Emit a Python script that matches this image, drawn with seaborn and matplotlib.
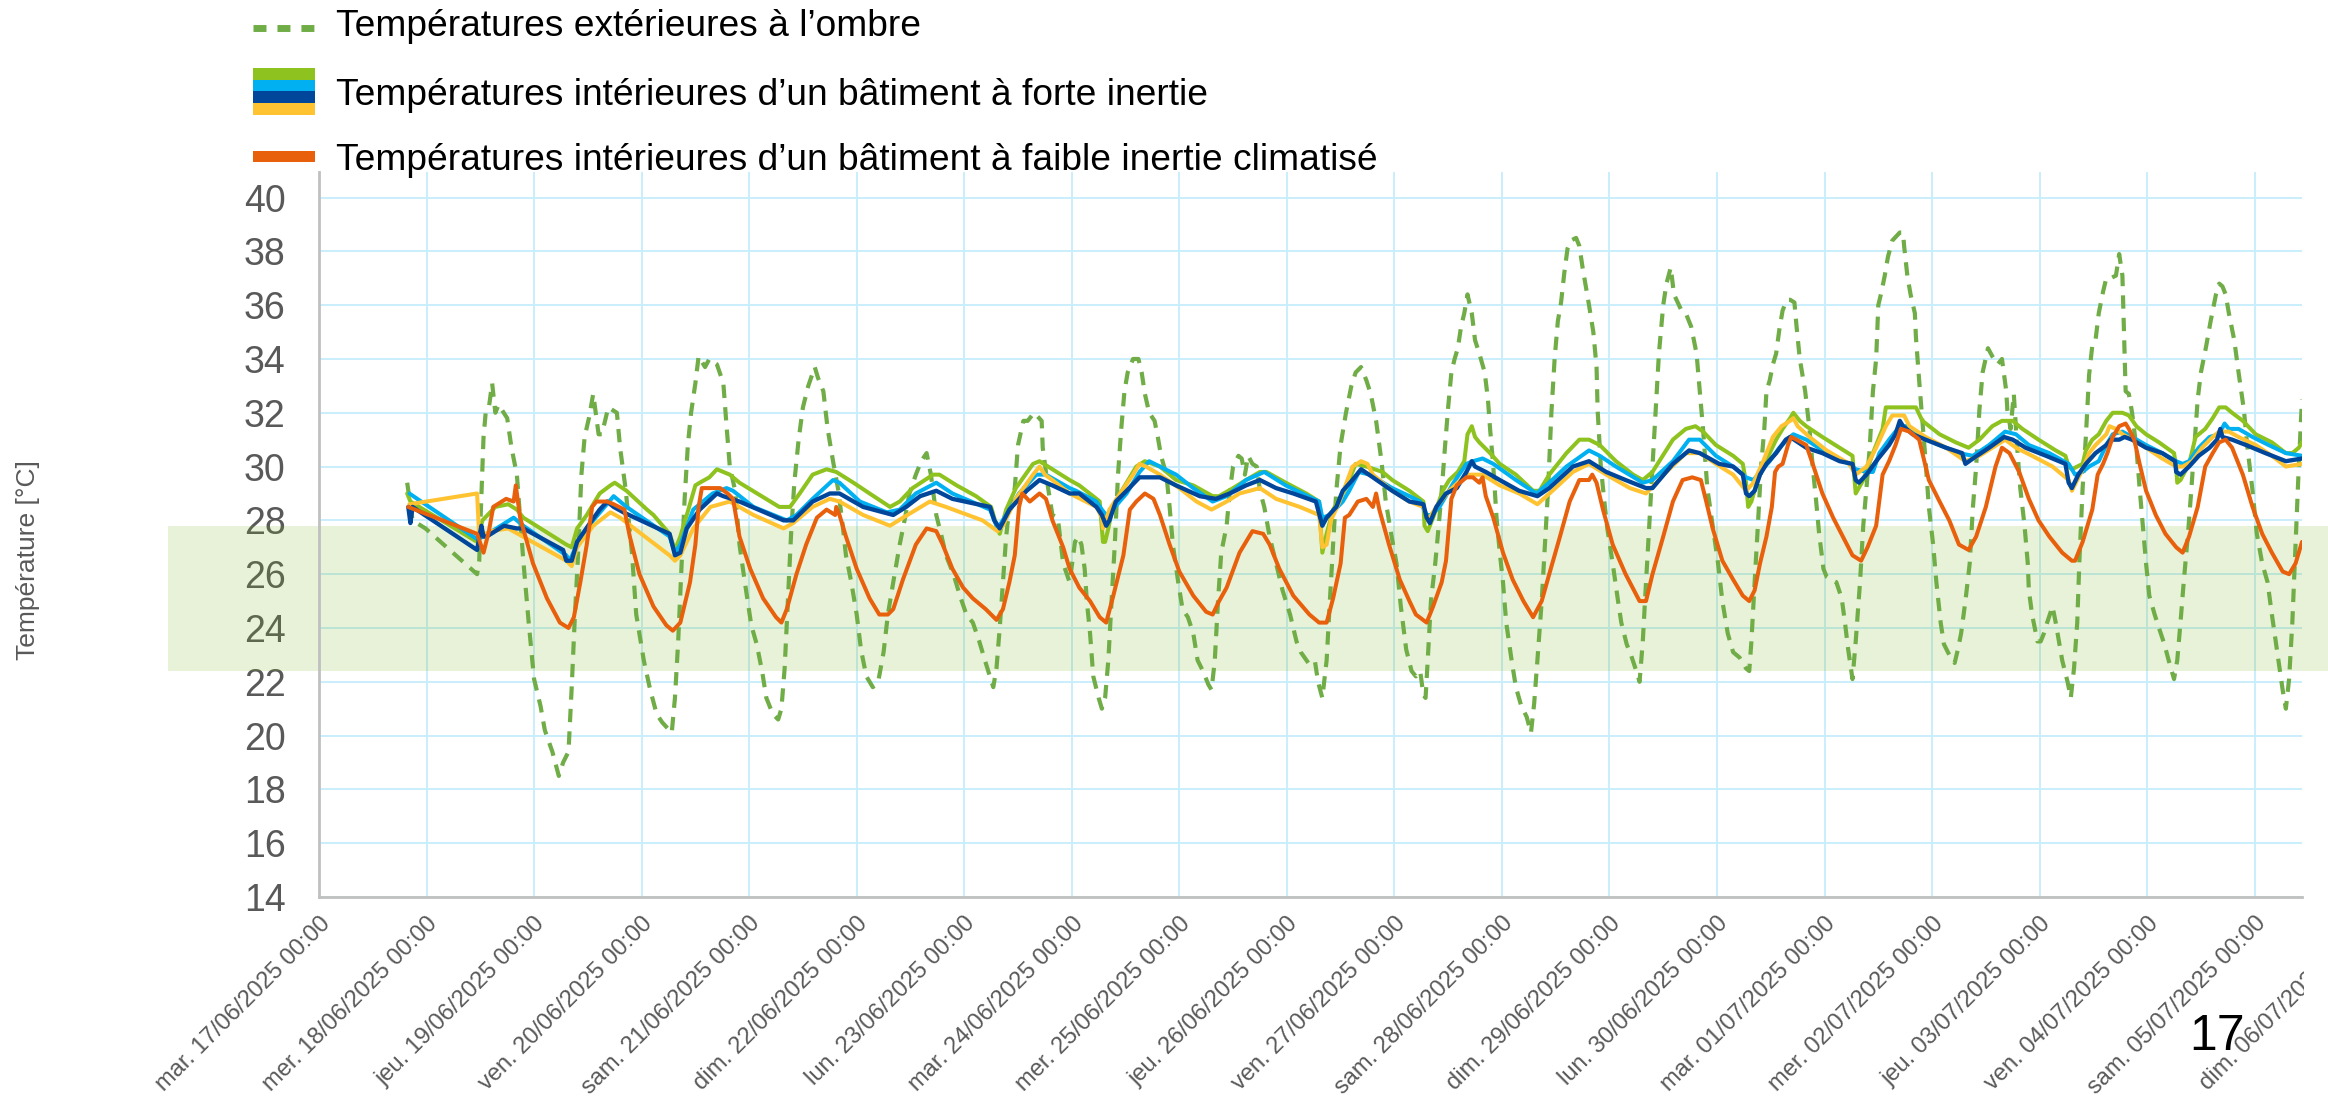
import pandas as pd
import seaborn as sns
import matplotlib.pyplot as plt
import matplotlib.transforms as mtransforms
from matplotlib.patches import Rectangle
from matplotlib.lines import Line2D

# time in days since mar. 17/06/2025 00:00, temperatures in °C

# Températures extérieures à l'ombre
t_ext = [0.82, 0.87, 0.99, 1.47, 1.49, 1.50, 1.52, 1.53, 1.55, 1.58, 1.61, 1.64, 1.67, 1.75, 1.79, 1.84,
         1.90, 1.95, 2.00, 2.06, 2.10, 2.17, 2.23, 2.27, 2.32, 2.35, 2.38, 2.41, 2.44, 2.47, 2.51, 2.55,
         2.60, 2.63, 2.69, 2.77, 2.80, 2.85, 2.91, 2.95, 3.02, 3.08, 3.14, 3.19, 3.28, 3.31, 3.34, 3.37,
         3.40, 3.43, 3.46, 3.50, 3.53, 3.59, 3.63, 3.70, 3.76, 3.79, 3.82, 3.87, 3.91, 3.96, 4.02, 4.07,
         4.12, 4.16, 4.22, 4.27, 4.30, 4.33, 4.36, 4.39, 4.42, 4.46, 4.50, 4.55, 4.61, 4.64, 4.69, 4.73,
         4.78, 4.83, 4.87, 4.90, 4.95, 5.00, 5.04, 5.09, 5.15, 5.20, 5.25, 5.29, 5.34, 5.40, 5.45, 5.49,
         5.55, 5.60, 5.65, 5.69, 5.74, 5.79, 5.83, 5.90, 5.96, 6.02, 6.08, 6.14, 6.20, 6.27, 6.30, 6.33,
         6.36, 6.39, 6.42, 6.47, 6.50, 6.55, 6.59, 6.65, 6.72, 6.73, 6.78, 6.82, 6.87, 6.92, 6.98, 7.03,
         7.06, 7.09, 7.12, 7.14, 7.17, 7.20, 7.25, 7.28, 7.31, 7.34, 7.37, 7.40, 7.43, 7.46, 7.49, 7.52,
         7.57, 7.62, 7.65, 7.68, 7.72, 7.77, 7.80, 7.83, 7.88, 7.91, 7.94, 7.99, 8.03, 8.08, 8.13, 8.17,
         8.22, 8.27, 8.30, 8.33, 8.36, 8.39, 8.44, 8.47, 8.50, 8.55, 8.58, 8.61, 8.64, 8.68, 8.72, 8.75,
         8.79, 8.84, 8.90, 8.96, 9.03, 9.09, 9.13, 9.20, 9.26, 9.29, 9.33, 9.37, 9.40, 9.43, 9.46, 9.50,
         9.55, 9.60, 9.64, 9.69, 9.74, 9.78, 9.83, 9.88, 9.92, 9.97, 10.02, 10.06, 10.11, 10.16, 10.20, 10.24,
         10.27, 10.29, 10.31, 10.34, 10.38, 10.41, 10.44, 10.47, 10.50, 10.53, 10.56, 10.59, 10.62, 10.65, 10.68, 10.72,
         10.75, 10.79, 10.84, 10.87, 10.89, 10.92, 10.95, 10.98, 11.01, 11.04, 11.09, 11.13, 11.18, 11.23, 11.27, 11.30,
         11.33, 11.37, 11.40, 11.43, 11.46, 11.49, 11.52, 11.55, 11.58, 11.61, 11.64, 11.69, 11.72, 11.75, 11.78, 11.81,
         11.85, 11.88, 11.89, 11.92, 11.95, 11.98, 12.03, 12.08, 12.11, 12.16, 12.20, 12.25, 12.28, 12.31, 12.34, 12.37,
         12.40, 12.43, 12.46, 12.50, 12.53, 12.57, 12.60, 12.67, 12.71, 12.76, 12.81, 12.84, 12.87, 12.91, 12.96, 13.01,
         13.05, 13.10, 13.15, 13.21, 13.27, 13.30, 13.32, 13.35, 13.38, 13.41, 13.44, 13.46, 13.49, 13.52, 13.55, 13.58,
         13.61, 13.65, 13.68, 13.72, 13.74, 13.77, 13.82, 13.86, 13.89, 13.92, 13.95, 13.99, 14.02, 14.06, 14.11, 14.16,
         14.19, 14.22, 14.26, 14.29, 14.33, 14.36, 14.39, 14.42, 14.45, 14.48, 14.50, 14.53, 14.56, 14.59, 14.63, 14.70,
         14.73, 14.74, 14.77, 14.80, 14.84, 14.85, 14.88, 14.91, 14.94, 14.97, 15.01, 15.04, 15.08, 15.11, 15.16, 15.21,
         15.24, 15.27, 15.31, 15.35, 15.38, 15.41, 15.44, 15.47, 15.52, 15.56, 15.61, 15.65, 15.69, 15.70, 15.73, 15.76,
         15.79, 15.82, 15.86, 15.89, 15.90, 15.93, 15.98, 16.01, 16.04, 16.07, 16.12, 16.15, 16.18, 16.21, 16.26, 16.29,
         16.32, 16.35, 16.37, 16.40, 16.43, 16.46, 16.49, 16.52, 16.55, 16.59, 16.62, 16.66, 16.71, 16.74, 16.77, 16.78,
         16.79, 16.80, 16.83, 16.86, 16.90, 16.93, 16.96, 16.99, 17.02, 17.07, 17.11, 17.16, 17.20, 17.25, 17.28, 17.31,
         17.34, 17.38, 17.41, 17.44, 17.47, 17.50, 17.55, 17.59, 17.64, 17.67, 17.70, 17.73, 17.76, 17.81, 17.85, 17.90,
         17.93, 17.98, 18.02, 18.07, 18.12, 18.16, 18.21, 18.26, 18.29, 18.32, 18.35, 18.38, 18.41, 18.44]
v_ext = [29.4, 28.0, 27.7, 26.0, 26.5, 27.8, 30.0, 31.1, 32.0, 32.2, 33.1, 32.0, 32.3, 31.8, 30.7, 29.7,
         26.5, 24.2, 22.1, 21.1, 20.2, 19.4, 18.5, 19.0, 19.4, 21.8, 24.5, 26.8, 29.7, 31.1, 31.8, 32.7,
         31.2, 31.2, 32.2, 32.0, 30.7, 29.2, 26.8, 24.5, 22.8, 21.7, 20.8, 20.5, 20.1, 21.4, 23.5, 26.2,
         28.8, 30.8, 32.0, 33.1, 34.1, 33.7, 34.0, 33.8, 33.1, 31.5, 30.0, 29.1, 27.1, 25.7, 24.1, 23.4,
         22.4, 21.4, 20.8, 20.6, 21.0, 22.5, 25.0, 27.5, 29.4, 31.0, 32.2, 33.0, 33.7, 33.3, 32.8, 31.4,
         30.2, 29.1, 27.8, 26.7, 25.7, 24.5, 23.2, 22.2, 21.8, 22.0, 23.1, 24.5, 25.7, 27.1, 28.1, 29.0,
         29.7, 30.2, 30.5, 29.7, 28.2, 27.4, 26.7, 26.0, 25.2, 24.5, 24.2, 23.5, 22.7, 21.8, 22.5, 24.0,
         25.7, 27.4, 28.5, 29.2, 30.8, 31.7, 31.7, 32.0, 31.7, 30.7, 29.2, 28.2, 28.1, 26.4, 25.7, 27.2,
         27.4, 27.1, 26.2, 25.0, 23.8, 22.2, 21.4, 21.0, 21.4, 22.8, 25.0, 27.1, 29.7, 31.4, 32.8, 33.5,
         34.0, 34.0, 33.5, 32.7, 32.0, 31.7, 31.1, 30.4, 29.7, 28.5, 27.1, 25.7, 24.7, 24.4, 23.8, 22.8,
         22.4, 21.9, 21.7, 22.8, 25.0, 26.8, 27.8, 29.1, 30.0, 30.4, 30.3, 29.7, 30.4, 30.1, 30.0, 29.1,
         28.5, 27.4, 26.4, 25.4, 24.5, 23.5, 23.1, 22.7, 22.8, 22.0, 21.4, 22.8, 25.0, 27.1, 29.1, 30.8,
         32.0, 33.0, 33.5, 33.7, 33.2, 32.7, 31.7, 30.2, 28.7, 27.5, 26.4, 24.8, 23.2, 22.4, 22.2, 22.4,
         21.5, 21.4, 22.8, 25.0, 26.4, 27.7, 29.1, 30.7, 32.2, 33.5, 34.0, 34.4, 35.2, 35.7, 36.4, 35.7,
         34.7, 34.2, 33.5, 32.5, 31.4, 30.0, 28.1, 26.8, 25.7, 24.2, 22.8, 21.8, 21.1, 20.7, 20.1, 21.2,
         22.8, 25.0, 27.1, 29.2, 32.0, 34.0, 35.4, 36.1, 37.2, 38.1, 38.4, 38.5, 38.2, 37.4, 36.7, 36.0,
         35.0, 33.7, 32.1, 30.0, 28.8, 27.7, 26.4, 25.0, 24.2, 23.4, 23.0, 22.4, 22.0, 23.5, 25.7, 27.8,
         30.0, 32.1, 34.2, 36.0, 36.8, 37.4, 36.4, 35.8, 35.7, 35.2, 34.2, 32.8, 31.4, 29.2, 27.8, 26.4,
         25.0, 23.8, 23.1, 22.9, 22.5, 22.4, 23.5, 25.7, 27.8, 30.0, 31.4, 32.8, 33.2, 33.8, 34.2, 35.1,
         35.8, 36.2, 36.2, 36.1, 35.2, 34.0, 32.8, 31.4, 30.0, 28.8, 27.5, 26.2, 25.9, 25.8, 25.7, 25.1,
         24.2, 23.2, 22.1, 23.5, 25.7, 27.8, 29.2, 30.7, 32.8, 34.0, 36.0, 36.5, 37.1, 37.8, 38.4, 38.7,
         38.7, 38.2, 37.1, 36.4, 35.7, 34.8, 33.2, 31.7, 30.2, 28.5, 27.1, 25.7, 24.2, 23.4, 23.0, 22.7,
         23.2, 23.8, 25.0, 26.4, 28.5, 30.0, 32.1, 33.5, 34.4, 34.1, 33.8, 34.0, 32.8, 32.1, 31.4, 32.7,
         30.8, 29.2, 27.8, 26.4, 25.4, 24.5, 23.5, 23.5, 23.8, 24.2, 24.8, 24.2, 23.5, 22.8, 22.0, 21.4,
         22.5, 24.2, 26.5, 29.2, 31.1, 33.4, 34.5, 34.7, 35.7, 36.5, 37.0, 37.0, 37.1, 37.9, 37.1, 35.7,
         34.2, 32.8, 32.7, 32.0, 30.7, 29.2, 27.8, 26.4, 25.2, 24.5, 24.0, 23.4, 22.8, 22.1, 22.8, 24.2,
         25.7, 27.5, 29.1, 30.8, 32.5, 33.5, 34.5, 35.4, 36.4, 36.8, 36.7, 36.4, 35.7, 34.7, 33.5, 32.1,
         30.8, 29.1, 27.5, 26.4, 25.7, 24.5, 23.1, 21.7, 21.0, 22.1, 24.2, 27.1, 30.0, 32.5]

# Bâtiment à forte inertie : 4 sondes
t_vert = [0.82, 0.85, 1.47, 1.52, 1.64, 1.76, 1.84, 1.90, 2.30, 2.35, 2.40, 2.49, 2.61, 2.71, 2.75, 2.86,
          3.05, 3.11, 3.26, 3.31, 3.36, 3.42, 3.50, 3.54, 3.63, 3.70, 3.76, 3.82, 3.91, 4.28, 4.38, 4.47,
          4.59, 4.72, 4.81, 4.97, 5.12, 5.31, 5.40, 5.52, 5.71, 5.77, 5.93, 6.11, 6.25, 6.30, 6.33, 6.39,
          6.48, 6.64, 6.70, 6.82, 6.98, 7.07, 7.23, 7.26, 7.29, 7.31, 7.34, 7.38, 7.45, 7.51, 7.60, 7.68,
          7.82, 7.97, 8.13, 8.31, 8.37, 8.50, 8.62, 8.75, 8.81, 8.99, 9.18, 9.30, 9.33, 9.37, 9.43, 9.55,
          9.64, 9.74, 9.89, 9.98, 10.14, 10.27, 10.28, 10.31, 10.36, 10.45, 10.51, 10.59, 10.65, 10.68, 10.72, 10.75,
          10.79, 10.89, 10.98, 11.13, 11.29, 11.35, 11.44, 11.60, 11.72, 11.81, 11.91, 12.06, 12.22, 12.31, 12.40, 12.59,
          12.71, 12.80, 12.87, 12.99, 13.15, 13.24, 13.27, 13.29, 13.32, 13.37, 13.43, 13.49, 13.55, 13.61, 13.68, 13.71,
          13.77, 13.83, 13.98, 14.14, 14.26, 14.29, 14.36, 14.45, 14.54, 14.57, 14.70, 14.85, 14.91, 15.07, 15.22, 15.34,
          15.44, 15.56, 15.65, 15.75, 15.84, 15.99, 16.15, 16.24, 16.27, 16.30, 16.40, 16.43, 16.49, 16.55, 16.62, 16.68,
          16.77, 16.83, 16.90, 16.99, 17.11, 17.25, 17.27, 17.28, 17.31, 17.39, 17.45, 17.54, 17.61, 17.67, 17.73, 17.79,
          17.89, 18.01, 18.16, 18.29, 18.35, 18.41, 18.44]
v_vert = [29.0, 28.7, 27.2, 28.0, 28.5, 28.6, 28.4, 28.1, 27.1, 27.0, 27.7, 28.2, 29.0, 29.3, 29.4, 29.1,
          28.4, 28.2, 27.5, 26.9, 27.4, 28.2, 29.3, 29.4, 29.6, 29.9, 29.8, 29.7, 29.4, 28.5, 28.5, 29.0,
          29.7, 29.9, 29.8, 29.4, 29.0, 28.5, 28.7, 29.2, 29.7, 29.7, 29.3, 28.9, 28.5, 27.8, 27.5, 28.4,
          29.2, 30.1, 30.2, 29.9, 29.5, 29.3, 28.8, 28.7, 27.2, 27.2, 27.7, 28.5, 29.0, 29.4, 30.0, 30.2,
          30.0, 29.5, 29.3, 28.9, 28.9, 29.2, 29.5, 29.8, 29.8, 29.4, 29.0, 28.7, 26.8, 27.5, 28.4, 29.2,
          30.1, 30.0, 29.8, 29.5, 29.1, 28.7, 27.8, 27.6, 28.1, 29.1, 29.5, 29.8, 30.2, 31.2, 31.5, 31.1,
          30.9, 30.5, 30.1, 29.7, 29.1, 29.1, 29.7, 30.5, 31.0, 31.0, 30.8, 30.2, 29.7, 29.5, 29.8, 31.0,
          31.4, 31.5, 31.3, 30.8, 30.4, 30.1, 29.4, 28.5, 28.7, 29.4, 30.0, 30.5, 31.0, 31.4, 31.8, 32.0,
          31.7, 31.5, 31.1, 30.7, 30.4, 29.0, 29.5, 30.5, 31.4, 32.2, 32.2, 32.2, 31.7, 31.2, 30.9, 30.7,
          31.0, 31.5, 31.7, 31.7, 31.4, 31.0, 30.6, 30.4, 30.0, 29.9, 30.1, 30.6, 31.0, 31.2, 31.7, 32.0,
          32.0, 31.9, 31.5, 31.2, 30.9, 30.5, 30.0, 29.4, 29.5, 30.1, 31.1, 31.4, 31.8, 32.2, 32.2, 32.0,
          31.7, 31.2, 30.9, 30.5, 30.5, 30.7, 30.9]

t_bleu = [0.84, 1.47, 1.53, 1.69, 1.81, 1.90, 2.30, 2.33, 2.40, 2.55, 2.74, 2.86, 3.26, 3.31, 3.36, 3.48,
          3.66, 3.79, 3.85, 4.04, 4.35, 4.44, 4.59, 4.78, 4.84, 5.03, 5.28, 5.40, 5.55, 5.74, 5.89, 6.24,
          6.31, 6.39, 6.51, 6.67, 6.76, 6.98, 7.04, 7.23, 7.28, 7.32, 7.38, 7.51, 7.63, 7.72, 7.82, 7.97,
          8.13, 8.31, 8.44, 8.62, 8.79, 8.99, 9.30, 9.33, 9.40, 9.52, 9.58, 9.67, 9.77, 9.98, 10.14, 10.24,
          10.30, 10.34, 10.42, 10.55, 10.67, 10.73, 10.82, 10.92, 11.13, 11.32, 11.44, 11.60, 11.81, 11.91, 12.06, 12.31,
          12.40, 12.59, 12.74, 12.84, 12.99, 13.15, 13.27, 13.34, 13.40, 13.49, 13.58, 13.68, 13.71, 13.83, 14.02, 14.23,
          14.29, 14.39, 14.45, 14.51, 14.60, 14.70, 14.76, 14.88, 15.07, 15.25, 15.38, 15.53, 15.68, 15.78, 15.90, 16.09,
          16.27, 16.33, 16.40, 16.46, 16.55, 16.62, 16.68, 16.77, 16.86, 16.99, 17.14, 17.27, 17.33, 17.39, 17.48, 17.58,
          17.67, 17.72, 17.76, 17.85, 17.98, 18.13, 18.29, 18.44]
v_bleu = [29.0, 27.3, 27.4, 27.8, 28.1, 27.8, 26.7, 26.5, 27.1, 28.0, 28.9, 28.5, 27.4, 26.8, 27.1, 28.4,
          29.0, 29.2, 29.1, 28.5, 28.0, 28.2, 28.8, 29.5, 29.4, 28.7, 28.3, 28.4, 29.0, 29.4, 29.0, 28.4,
          27.7, 28.2, 29.0, 29.7, 29.7, 29.2, 29.1, 28.7, 28.4, 28.2, 28.4, 29.0, 29.8, 30.2, 30.0, 29.7,
          29.2, 28.7, 28.9, 29.5, 29.8, 29.3, 28.7, 28.1, 28.2, 28.7, 29.1, 29.8, 29.7, 29.2, 28.9, 28.7,
          28.2, 28.2, 28.5, 29.4, 30.1, 30.2, 30.3, 30.1, 29.5, 29.0, 29.4, 30.0, 30.6, 30.4, 30.0, 29.4,
          29.5, 30.2, 31.0, 31.0, 30.4, 30.0, 29.6, 29.5, 29.8, 30.2, 30.7, 31.1, 31.2, 31.0, 30.5, 30.1,
          29.9, 29.8, 29.8, 30.5, 31.0, 31.5, 31.5, 31.2, 30.8, 30.5, 30.4, 30.8, 31.3, 31.2, 30.8, 30.5,
          30.1, 29.7, 29.8, 30.0, 30.2, 30.8, 31.2, 31.3, 31.1, 30.8, 30.5, 30.2, 30.1, 30.2, 30.7, 31.1,
          31.2, 31.6, 31.4, 31.4, 31.1, 30.8, 30.5, 30.4]

t_marine = [0.83, 0.85, 0.87, 1.47, 1.51, 1.53, 1.56, 1.72, 1.84, 1.90, 2.27, 2.30, 2.35, 2.40, 2.52, 2.61,
            2.68, 2.74, 2.83, 3.26, 3.31, 3.36, 3.42, 3.54, 3.70, 3.76, 3.91, 4.32, 4.41, 4.59, 4.75, 4.84,
            5.06, 5.34, 5.46, 5.59, 5.74, 5.89, 6.24, 6.28, 6.33, 6.42, 6.58, 6.70, 6.82, 6.98, 7.07, 7.23,
            7.28, 7.32, 7.35, 7.41, 7.51, 7.63, 7.82, 7.97, 8.19, 8.34, 8.47, 8.62, 8.75, 8.90, 9.06, 9.27,
            9.33, 9.37, 9.46, 9.52, 9.61, 9.69, 9.80, 9.98, 10.14, 10.27, 10.30, 10.33, 10.39, 10.48, 10.58, 10.67,
            10.72, 10.75, 10.85, 10.98, 11.16, 11.33, 11.44, 11.66, 11.81, 11.97, 12.15, 12.34, 12.40, 12.59, 12.74, 12.84,
            13.02, 13.15, 13.24, 13.27, 13.30, 13.35, 13.40, 13.46, 13.55, 13.64, 13.68, 13.83, 13.98, 14.14, 14.26, 14.29,
            14.32, 14.39, 14.48, 14.60, 14.66, 14.70, 14.73, 14.82, 14.94, 15.13, 15.28, 15.31, 15.38, 15.53, 15.67, 15.75,
            15.87, 16.06, 16.24, 16.27, 16.30, 16.36, 16.43, 16.52, 16.62, 16.66, 16.74, 16.79, 16.86, 16.99, 17.14, 17.26,
            17.27, 17.31, 17.39, 17.48, 17.58, 17.65, 17.68, 17.70, 17.79, 17.92, 18.10, 18.29, 18.44]
v_marine = [28.5, 27.9, 28.5, 26.9, 27.8, 27.4, 27.4, 27.8, 27.7, 27.7, 26.9, 26.5, 26.5, 27.2, 27.9, 28.4,
            28.7, 28.5, 28.3, 27.5, 26.7, 26.8, 27.7, 28.4, 29.0, 28.9, 28.7, 28.0, 28.0, 28.7, 29.0, 29.0,
            28.5, 28.2, 28.5, 28.9, 29.1, 28.8, 28.5, 28.0, 27.7, 28.4, 29.1, 29.5, 29.3, 29.0, 29.0, 28.5,
            28.2, 27.8, 28.0, 28.7, 29.1, 29.6, 29.6, 29.3, 28.9, 28.8, 29.0, 29.3, 29.5, 29.2, 29.0, 28.7,
            27.8, 28.1, 28.5, 29.1, 29.5, 29.9, 29.6, 29.1, 28.7, 28.6, 28.1, 27.9, 28.5, 29.0, 29.2, 29.8,
            30.2, 30.0, 29.8, 29.5, 29.1, 28.9, 29.2, 30.0, 30.2, 29.8, 29.5, 29.2, 29.2, 30.1, 30.6, 30.5,
            30.1, 30.0, 29.7, 29.0, 28.9, 29.1, 29.7, 30.1, 30.5, 31.0, 31.1, 30.7, 30.5, 30.2, 30.1, 29.5,
            29.4, 29.7, 30.2, 30.8, 31.2, 31.7, 31.5, 31.2, 31.0, 30.7, 30.5, 30.1, 30.3, 30.7, 31.1, 31.0,
            30.7, 30.4, 30.1, 29.4, 29.2, 29.7, 30.1, 30.5, 30.8, 31.0, 31.0, 31.1, 31.0, 30.7, 30.5, 30.2,
            29.8, 29.7, 30.0, 30.4, 30.7, 31.0, 31.4, 31.1, 31.0, 30.8, 30.5, 30.2, 30.3]

t_jaune = [0.84, 1.47, 1.49, 1.60, 1.76, 1.85, 2.30, 2.35, 2.40, 2.55, 2.71, 2.80, 3.26, 3.31, 3.36, 3.48,
           3.64, 3.82, 4.04, 4.32, 4.41, 4.59, 4.75, 4.84, 5.06, 5.31, 5.43, 5.68, 5.83, 6.17, 6.31, 6.36,
           6.48, 6.64, 6.70, 6.75, 6.82, 6.98, 7.23, 7.28, 7.29, 7.35, 7.45, 7.57, 7.63, 7.69, 7.82, 8.00,
           8.16, 8.30, 8.44, 8.56, 8.75, 8.90, 9.12, 9.30, 9.33, 9.37, 9.41, 9.49, 9.61, 9.69, 9.75, 9.80,
           9.98, 10.14, 10.27, 10.31, 10.39, 10.51, 10.67, 10.82, 10.98, 11.16, 11.33, 11.47, 11.66, 11.81, 11.97, 12.19,
           12.34, 12.53, 12.71, 12.84, 12.99, 13.15, 13.27, 13.34, 13.43, 13.52, 13.60, 13.68, 13.71, 13.75, 13.86, 14.02,
           14.23, 14.29, 14.39, 14.48, 14.57, 14.63, 14.74, 14.79, 14.94, 15.13, 15.31, 15.44, 15.56, 15.68, 15.78, 15.93,
           16.12, 16.27, 16.30, 16.40, 16.46, 16.52, 16.62, 16.65, 16.71, 16.77, 16.86, 16.99, 17.14, 17.27, 17.33, 17.42,
           17.51, 17.61, 17.67, 17.76, 17.85, 18.01, 18.16, 18.29, 18.44]
v_jaune = [28.6, 29.0, 27.4, 27.6, 27.7, 27.5, 26.5, 26.3, 27.0, 27.8, 28.3, 28.1, 26.7, 26.5, 26.7, 27.7,
           28.5, 28.7, 28.2, 27.7, 27.9, 28.5, 28.8, 28.7, 28.2, 27.8, 28.1, 28.7, 28.5, 28.0, 27.6, 27.8,
           28.8, 29.7, 30.0, 29.7, 29.5, 29.0, 28.5, 28.1, 27.7, 28.4, 29.0, 29.7, 30.1, 30.0, 29.7, 29.2,
           28.7, 28.4, 28.7, 29.0, 29.2, 28.8, 28.5, 28.2, 27.0, 27.1, 28.0, 28.7, 30.0, 30.2, 30.1, 29.7,
           29.1, 28.7, 28.5, 28.0, 28.5, 29.1, 29.7, 29.7, 29.3, 29.0, 28.6, 29.1, 29.8, 30.1, 29.7, 29.2,
           29.0, 29.8, 30.5, 30.5, 30.1, 29.7, 29.1, 29.4, 30.2, 31.1, 31.5, 31.7, 31.8, 31.5, 31.1, 30.6,
           30.1, 29.7, 30.0, 30.7, 31.5, 31.9, 31.9, 31.5, 31.1, 30.7, 30.2, 30.4, 30.7, 31.0, 30.7, 30.4,
           30.0, 29.5, 29.1, 29.9, 30.5, 30.8, 31.2, 31.5, 31.4, 31.2, 31.0, 30.7, 30.3, 30.0, 30.0, 30.2,
           30.7, 31.1, 31.3, 31.3, 31.1, 30.8, 30.4, 30.0, 30.1]

# Bâtiment à faible inertie climatisé
t_clim = [0.83, 1.47, 1.53, 1.58, 1.62, 1.74, 1.81, 1.83, 1.87, 1.99, 2.12, 2.24, 2.32, 2.37, 2.43, 2.49,
          2.54, 2.58, 2.68, 2.74, 2.84, 2.89, 2.98, 3.11, 3.23, 3.29, 3.36, 3.45, 3.50, 3.53, 3.56, 3.63,
          3.73, 3.80, 3.85, 3.91, 4.01, 4.13, 4.25, 4.30, 4.35, 4.44, 4.53, 4.63, 4.72, 4.80, 4.81, 4.84,
          4.90, 5.00, 5.12, 5.21, 5.29, 5.34, 5.43, 5.55, 5.65, 5.74, 5.80, 5.89, 5.99, 6.08, 6.20, 6.30,
          6.36, 6.42, 6.47, 6.51, 6.54, 6.61, 6.70, 6.76, 6.82, 6.92, 6.98, 7.07, 7.17, 7.26, 7.32, 7.38,
          7.48, 7.54, 7.60, 7.68, 7.76, 7.82, 7.91, 8.00, 8.13, 8.25, 8.31, 8.37, 8.44, 8.56, 8.68, 8.78,
          8.84, 8.93, 9.06, 9.21, 9.30, 9.37, 9.43, 9.50, 9.54, 9.58, 9.66, 9.74, 9.80, 9.83, 9.86, 9.95,
          10.05, 10.14, 10.20, 10.30, 10.36, 10.44, 10.48, 10.53, 10.58, 10.67, 10.73, 10.79, 10.82, 10.85, 10.92, 11.01,
          11.10, 11.20, 11.29, 11.37, 11.44, 11.54, 11.63, 11.72, 11.81, 11.84, 11.88, 11.94, 12.03, 12.15, 12.28, 12.34,
          12.40, 12.50, 12.59, 12.68, 12.77, 12.85, 12.90, 12.96, 13.05, 13.15, 13.24, 13.30, 13.35, 13.40, 13.46, 13.51,
          13.54, 13.57, 13.61, 13.66, 13.69, 13.74, 13.83, 13.89, 13.98, 14.08, 14.17, 14.26, 14.34, 14.40, 14.48, 14.54,
          14.60, 14.66, 14.71, 14.79, 14.88, 14.97, 15.07, 15.16, 15.25, 15.34, 15.41, 15.50, 15.59, 15.65, 15.72, 15.81,
          15.90, 15.99, 16.09, 16.21, 16.30, 16.33, 16.40, 16.46, 16.49, 16.54, 16.59, 16.63, 16.68, 16.74, 16.80, 16.83,
          16.88, 16.93, 16.99, 17.08, 17.17, 17.27, 17.33, 17.39, 17.47, 17.54, 17.61, 17.67, 17.73, 17.79, 17.89, 17.98,
          18.07, 18.16, 18.26, 18.32, 18.38, 18.44]
v_clim = [28.5, 27.5, 26.8, 27.6, 28.5, 28.8, 28.7, 29.3, 28.1, 26.4, 25.1, 24.2, 24.0, 24.4, 25.7, 27.1,
          28.5, 28.7, 28.7, 28.6, 28.4, 27.4, 26.0, 24.8, 24.1, 23.9, 24.2, 25.7, 27.1, 28.5, 29.2, 29.2,
          29.2, 29.0, 28.8, 27.4, 26.2, 25.1, 24.4, 24.2, 24.7, 26.0, 27.1, 28.1, 28.4, 28.2, 28.5, 28.2,
          27.4, 26.2, 25.1, 24.5, 24.5, 24.7, 25.8, 27.1, 27.7, 27.6, 27.1, 26.2, 25.5, 25.1, 24.7, 24.3,
          24.7, 25.7, 26.7, 28.5, 29.0, 28.7, 29.0, 28.8, 28.0, 27.0, 26.2, 25.5, 25.0, 24.4, 24.2, 25.1,
          26.7, 28.4, 28.7, 29.0, 28.8, 28.2, 27.1, 26.1, 25.2, 24.6, 24.5, 25.0, 25.5, 26.8, 27.6, 27.5,
          27.1, 26.2, 25.2, 24.5, 24.2, 24.2, 25.1, 26.4, 28.1, 28.2, 28.7, 28.8, 28.5, 29.0, 28.4, 27.1,
          25.8, 25.0, 24.5, 24.2, 24.8, 25.7, 26.5, 28.8, 29.3, 29.6, 29.6, 29.4, 29.6, 28.9, 28.1, 26.8,
          25.8, 25.0, 24.4, 25.0, 26.0, 27.4, 28.7, 29.5, 29.5, 29.7, 29.4, 28.4, 27.1, 26.0, 25.0, 25.0,
          26.0, 27.4, 28.7, 29.5, 29.6, 29.5, 28.7, 27.7, 26.5, 25.8, 25.2, 25.0, 25.4, 26.4, 27.4, 28.5,
          29.8, 30.0, 30.1, 30.8, 31.1, 31.0, 30.8, 30.1, 29.0, 28.1, 27.4, 26.7, 26.5, 27.0, 27.8, 29.7,
          30.2, 30.8, 31.4, 31.3, 31.0, 29.5, 28.7, 28.0, 27.1, 26.9, 27.4, 28.5, 30.0, 30.7, 30.5, 29.8,
          28.8, 28.0, 27.4, 26.8, 26.5, 26.5, 27.2, 28.0, 28.4, 29.7, 30.1, 30.5, 31.1, 31.5, 31.6, 31.4,
          31.0, 30.1, 29.1, 28.2, 27.5, 27.0, 26.8, 27.4, 28.5, 30.0, 30.5, 30.9, 31.0, 30.7, 29.7, 28.5,
          27.5, 26.8, 26.1, 26.0, 26.4, 27.2]

# zone de confort
confort_bas, confort_haut = 22.4, 27.8

jours = ['lun.', 'mar.', 'mer.', 'jeu.', 'ven.', 'sam.', 'dim.']
dates = pd.date_range('2025-06-17', '2025-07-06', freq='D')
date_labels = [f"{jours[d.weekday()]} {d:%d/%m/%Y} 00:00" for d in dates]
y_ticks = list(range(14, 41, 2))

legend_texts = ['Températures extérieures à l’ombre',
                'Températures intérieures d’un bâtiment à forte inertie',
                'Températures intérieures d’un bâtiment à faible inertie climatisé']

C_EXT = '#70ad47'
C_VERT = '#8dc21f'
C_BLEU = '#00b0f0'
C_MARINE = '#00479b'
C_JAUNE = '#ffc231'
C_CLIM = '#e8600c'
GRIS = '#595959'
GRID = '#c9eefb'

W, H = 2328, 1103
sns.set_style('white')
plt.rcParams['font.family'] = ['Liberation Sans', 'DejaVu Sans']


def fx(px):
    return px / W


def fy(py):
    return 1 - py / H


fig = plt.figure(figsize=(W / 100, H / 100), dpi=100)
ax = fig.add_axes([fx(319), fy(897), (2302 - 319) / W, (897 - 172) / H])

series = [
    (t_ext, v_ext, C_EXT, 3.0, (0, (3.2, 2.2))),
    (t_vert, v_vert, C_VERT, 2.9, '-'),
    (t_bleu, v_bleu, C_BLEU, 2.9, '-'),
    (t_jaune, v_jaune, C_JAUNE, 2.9, '-'),
    (t_marine, v_marine, C_MARINE, 3.1, '-'),
    (t_clim, v_clim, C_CLIM, 2.9, '-'),
]
for i, (t, v, c, lw, ls) in enumerate(series):
    sns.lineplot(x=t, y=v, ax=ax, color=c, linewidth=lw, linestyle=ls,
                 estimator=None, sort=False, zorder=3 + i)

# comfort band, runs past the plot on both sides
ax.axhspan(confort_bas, confort_haut, xmin=(168 - 319) / 1983, xmax=1.02,
           facecolor='#78b41e', alpha=0.17, lw=0, zorder=1, clip_on=False)

ax.set_xlim(0, 18.44)
ax.set_ylim(14, 40.95)
ax.set_xticks(range(19))
ax.set_xticklabels(date_labels[:19], rotation=45, ha='right', va='top',
                   rotation_mode='anchor', fontsize=17, color=GRIS)
ax.set_yticks(y_ticks)
ax.set_yticklabels([str(v) for v in y_ticks], fontsize=27, color=GRIS)
ax.tick_params(axis='x', length=0, pad=11)
ax.tick_params(axis='y', length=0, pad=24)
ax.grid(True, color=GRID, lw=1.4)
ax.set_axisbelow(True)
for s in ['top', 'right']:
    ax.spines[s].set_visible(False)
for s in ['left', 'bottom']:
    ax.spines[s].set_color('#c0c0c0')
    ax.spines[s].set_linewidth(2)
ax.set_xlabel('')
ax.set_ylabel('')

# last date label, cut at the right edge of the chart like the source
trans = mtransforms.offset_copy(
    mtransforms.blended_transform_factory(ax.transData, ax.transAxes),
    fig=fig, y=-11, units='points')
last = ax.text(19, 0, date_labels[19], transform=trans, rotation=45, ha='right', va='top',
               rotation_mode='anchor', fontsize=17, color=GRIS)
last.set_clip_path(None)
last.set_clip_box(mtransforms.TransformedBbox(
    mtransforms.Bbox([[0, 0], [fx(2304), 1]]), fig.transFigure))
last.set_clip_on(True)

fig.text(fx(28), fy(560), 'Température [°C]', rotation=90, ha='center', va='center',
         fontsize=19, color=GRIS)

# hand-made legend
fig.add_artist(Line2D([fx(253), fx(315)], [fy(28), fy(28)], color=C_EXT, lw=5,
                      linestyle=(0, (1.87, 1.58)), dash_capstyle='butt'))
for y0, y1, c in [(68, 79.5, C_VERT), (79.5, 91, C_BLEU), (91, 103, C_MARINE), (103, 115, C_JAUNE)]:
    fig.add_artist(Rectangle((fx(253), fy(y1)), (315 - 253) / W, (y1 - y0) / H,
                             transform=fig.transFigure, facecolor=c, lw=0))
fig.add_artist(Rectangle((fx(253), fy(162)), (315 - 253) / W, 11.5 / H,
                         transform=fig.transFigure, facecolor=C_CLIM, lw=0))
for txt, yb in zip(legend_texts, [36.5, 105, 170]):
    fig.text(fx(336), fy(yb), txt, va='baseline', ha='left', fontsize=26.7, color='black')

fig.text(fx(2217), fy(1037), '17', ha='center', va='center', fontsize=36, color='black')

fig.savefig('out.png', dpi=100)
